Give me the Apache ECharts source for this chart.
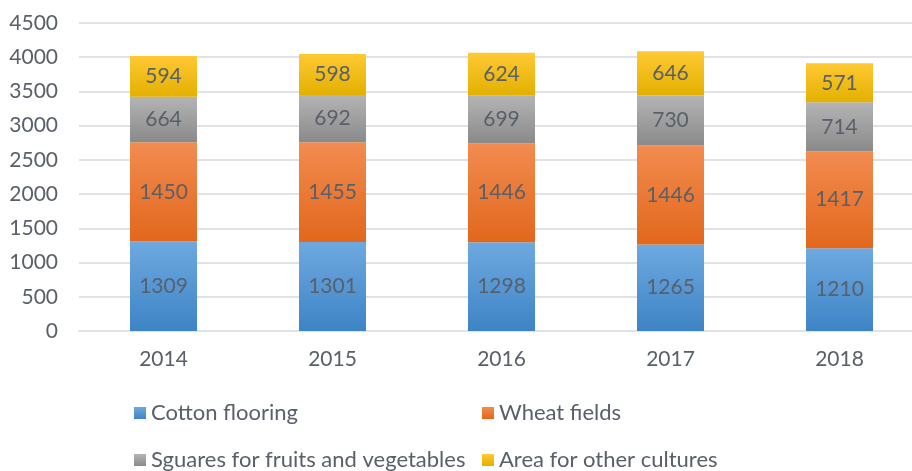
<!DOCTYPE html>
<html>
<head>
<meta charset="utf-8">
<script src="https://cdn.jsdelivr.net/npm/echarts@6/dist/echarts.min.js"></script>
<style>
html,body{margin:0;padding:0;background:#fff;overflow:hidden;width:912px;height:471px;}
#c{width:930px;height:471px;}
</style>
</head>
<body>
<div id="c"></div>
<script>
var categories = ['2014', '2015', '2016', '2017', '2018'];
var seriesNames = ['Cotton flooring', 'Wheat fields', 'Sguares for fruits and vegetables', 'Area for other cultures'];
var cotton = [1309, 1301, 1298, 1265, 1210];
var wheat = [1450, 1455, 1446, 1446, 1417];
var squares = [664, 692, 699, 730, 714];
var other = [594, 598, 624, 646, 571];
var yTicks = [0, 500, 1000, 1500, 2000, 2500, 3000, 3500, 4000, 4500];

var FONT = 'Lato';
var TXT = '#596069';

function grad(top, bottom) {
  return new echarts.graphic.LinearGradient(0, 0, 0, 1, [
    {offset: 0, color: top}, {offset: 1, color: bottom}
  ]);
}
var fills = [
  grad('#6ea9e0', '#3d84c6'),
  grad('#f28c50', '#e2671c'),
  grad('#b4b4b4', '#8a8a8a'),
  grad('#ffc933', '#e3b000')
];
var legendColors = ['#4a90d6', '#ee7428', '#a5a5a5', '#ffc000'];
var data = [cotton, wheat, squares, other];

var chart = echarts.init(document.getElementById('c'), null, {renderer: 'canvas'});
var series = data.map(function (d, i) {
  return {
    name: seriesNames[i],
    type: 'bar',
    stack: 'total',
    barWidth: 67,
    data: d,
    itemStyle: {color: fills[i]},
    label: {
      show: true,
      position: 'inside',
      color: TXT,
      fontFamily: FONT,
      fontSize: 21
    },
    emphasis: {disabled: true}
  };
});

var legendTextStyle = {color: TXT, fontFamily: FONT, fontSize: 22};
var legendPos = [[129, 397], [477, 397], [129, 444], [477, 444]];
var legends = seriesNames.map(function (n, i) {
  return {
    data: [n],
    left: legendPos[i][0],
    top: legendPos[i][1],
    itemWidth: 12,
    itemHeight: 12,
    itemGap: 0,
    icon: 'rect',
    selectedMode: false,
    textStyle: legendTextStyle
  };
});

chart.setOption({
  animation: false,
  color: legendColors,
  grid: {left: 79, width: 845, top: 23, height: 308, containLabel: false},
  xAxis: {
    type: 'category',
    data: categories,
    axisLine: {lineStyle: {color: '#dfe2e7', width: 2}},
    axisTick: {show: false},
    axisLabel: {color: TXT, fontFamily: FONT, fontSize: 21, margin: 18}
  },
  yAxis: {
    type: 'value',
    min: yTicks[0],
    max: yTicks[yTicks.length - 1],
    interval: 500,
    axisLine: {show: false},
    axisTick: {show: false},
    splitLine: {lineStyle: {color: '#dfe2e7', width: 2}},
    axisLabel: {
      color: TXT, fontFamily: FONT, fontSize: 21, margin: 21,
      formatter: function (v) { return String(v); }
    }
  },
  legend: legends,
  series: series
});
</script>
</body>
</html>
